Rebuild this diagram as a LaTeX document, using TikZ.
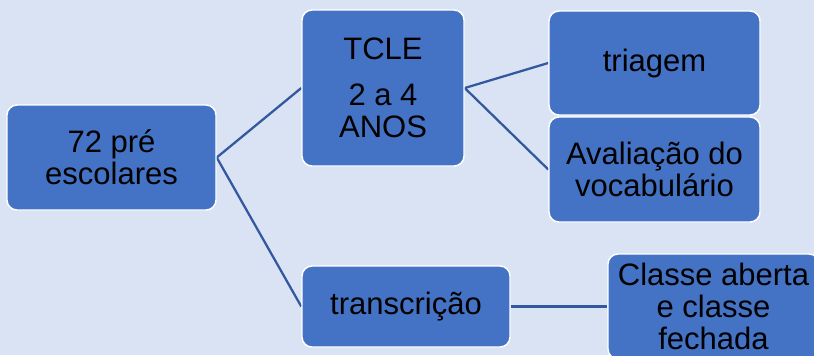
\documentclass[tikz,border=0pt]{standalone}
\usepackage{fontspec}
\setmainfont{Liberation Sans}
\usetikzlibrary{backgrounds}

\definecolor{fundo}{RGB}{218,227,243}
\definecolor{azulcaixa}{RGB}{68,114,196}
\definecolor{azullinha}{RGB}{52,88,160}

\begin{document}
\begin{tikzpicture}[x=0.75pt,y=0.75pt,yscale=-1,xscale=1,
  bloco/.style={draw=white, line width=1.1pt, fill=azulcaixa, rounded corners=7.5pt,
    align=center, inner sep=0pt, text=black, font=\fontsize{23.25}{24}\selectfont},
  liga/.style={draw=azullinha, line width=1.7pt}]
%set diagram to 814 x 355
\useasboundingbox (0,0) rectangle (814,355);
\clip (0,0) rectangle (814,355);

%Shape: Rounded Rect [id:pre]
\node [bloco, minimum width=156.75pt, minimum height=78.75pt] (pre) at (111.5,157.5) {72 pré\\escolares};
%Shape: Rounded Rect [id:tcle]
\node [bloco, minimum width=121.5pt, minimum height=117pt] (tcle) at (383,88) {TCLE\\[10.5pt]2 a 4\\ANOS};
%Shape: Rounded Rect [id:triagem]
\node [bloco, minimum width=158.25pt, minimum height=78pt] (triagem) at (654.5,63) {triagem};
%Shape: Rounded Rect [id:vocab]
\node [bloco, minimum width=158.25pt, minimum height=78.75pt] (vocab) at (654.5,169.5) {Avaliação do\\vocabulário};
%Shape: Rounded Rect [id:transc]
\node [bloco, minimum width=156pt, minimum height=60.75pt] (transc) at (406,306.5) {transcrição};
%Shape: Rounded Rect [id:classe]
\node [bloco, minimum width=158.25pt, minimum height=78.75pt] (classe) at (713.5,306.5) {Classe aberta\\e classe\\fechada};

\begin{pgfonlayer}{background}
%Background
\fill [fundo] (0,0) rectangle (814,355);
%Straight Lines
\draw [liga] (pre.east) -- (tcle.west) ;
\draw [liga] (pre.east) -- (transc.west) ;
\draw [liga] (tcle.east) -- (triagem.west) ;
\draw [liga] (tcle.east) -- (vocab.west) ;
\draw [liga] (transc.east) -- (classe.west) ;
\end{pgfonlayer}

\end{tikzpicture}
\end{document}
